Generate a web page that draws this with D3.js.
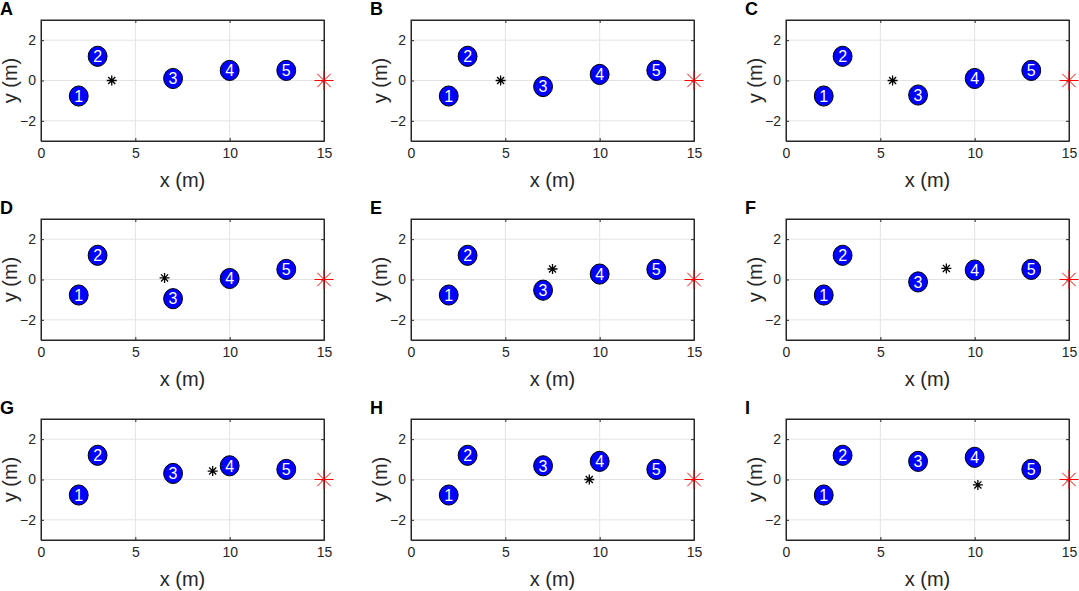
<!DOCTYPE html>
<html>
<head>
<meta charset="utf-8">
<script src="https://cdn.jsdelivr.net/npm/d3@7"></script>
<style>
  body { margin: 0; background: #fff; }
  text { font-family: "Liberation Sans", Arial, sans-serif; }
</style>
</head>
<body>
<div id="chart"></div>
<script>

// panel letters
const panels = ["A", "B", "C", "D", "E", "F", "G", "H", "I"];

// obstacle positions (x fixed, y of obstacles 3 and 4 change per panel)
const obstacleIds = [1, 2, 3, 4, 5];
const obstacleX = [2, 3, 7, 10, 13];
const obstacle1Y = [-0.77, -0.77, -0.77, -0.77, -0.77, -0.77, -0.77, -0.77, -0.77];
const obstacle2Y = [1.2, 1.2, 1.2, 1.2, 1.2, 1.2, 1.2, 1.2, 1.2];
const obstacle3Y = [0.1, -0.3, -0.72, -0.95, -0.53, -0.12, 0.3, 0.68, 0.9];
const obstacle4Y = [0.5, 0.3, 0.1, 0.05, 0.27, 0.47, 0.68, 0.9, 1.1];
const obstacle5Y = [0.5, 0.5, 0.5, 0.5, 0.5, 0.5, 0.5, 0.5, 0.5];
const obstacleR = 0.5;

// robot (black asterisk) per panel
const robotX = [3.75, 4.75, 5.65, 6.55, 7.5, 8.5, 9.1, 9.45, 10.17];
const robotY = [0, 0, 0, 0.08, 0.52, 0.55, 0.42, 0, -0.27];

// goal (red asterisk)
const goal = [15, 0];

const xTicks = [0, 5, 10, 15];
const yTicks = [-2, 0, 2];

const width = 1079;
const height = 591;

const colLeft = [41, 411, 786];
const rowTop = [20, 219, 419];
const plotW = 283;
const plotH = 121;

const svg = d3.select("#chart")
    .append("svg")
    .attr("width", width)
    .attr("height", height);

function asterisk(size) {
    // + and x combined, like matlab '*'
    const r = size / 2;
    const d = r * Math.SQRT1_2;
    return "M" + (-r) + ",0L" + r + ",0" +
        "M0," + (-r) + "L0," + r +
        "M" + (-d) + "," + (-d) + "L" + d + "," + d +
        "M" + (-d) + "," + d + "L" + d + "," + (-d);
}

panels.forEach(function (letter, i) {

    const col = i % 3;
    const row = Math.floor(i / 3);
    const left = colLeft[col];
    const top = rowTop[row];

    const x = d3.scaleLinear().domain([0, 15]).range([0, plotW]);
    const y = d3.scaleLinear().domain([-3, 3]).range([plotH, 0]);

    const g = svg.append("g")
        .attr("transform", "translate(" + left + "," + top + ")");

    // grid
    g.selectAll("line.gx")
        .data(xTicks.slice(1, -1))
        .enter()
        .append("line")
        .attr("x1", d => x(d)).attr("x2", d => x(d))
        .attr("y1", 0).attr("y2", plotH)
        .style("stroke", "#e3e3e3")
        .style("stroke-width", 1);

    g.selectAll("line.gy")
        .data(yTicks)
        .enter()
        .append("line")
        .attr("x1", 0).attr("x2", plotW)
        .attr("y1", d => y(d)).attr("y2", d => y(d))
        .style("stroke", "#e3e3e3")
        .style("stroke-width", 1);

    // axes, ticks pointing inward
    const fmt = d3.format("d");
    const xAxisB = d3.axisBottom(x).tickValues(xTicks).tickFormat(fmt).tickSizeInner(-3).tickSizeOuter(0).tickPadding(7);
    const xAxisT = d3.axisTop(x).tickValues(xTicks).tickSizeInner(-3).tickSizeOuter(0).tickFormat("");
    const yAxisL = d3.axisLeft(y).tickValues(yTicks).tickFormat(fmt).tickSizeInner(-3).tickSizeOuter(0).tickPadding(5);
    const yAxisR = d3.axisRight(y).tickValues(yTicks).tickSizeInner(-3).tickSizeOuter(0).tickFormat("");

    const axes = [
        g.append("g").attr("transform", "translate(0," + plotH + ")").call(xAxisB),
        g.append("g").call(xAxisT),
        g.append("g").call(yAxisL),
        g.append("g").attr("transform", "translate(" + plotW + ",0)").call(yAxisR)
    ];
    axes.forEach(function (a) {
        a.attr("font-size", null).attr("font-family", null);
        a.selectAll("path, line").style("stroke", "#262626").style("stroke-width", 1);
        a.selectAll("text")
            .style("font-size", "14px")
            .style("fill", "#262626");
    });

    // box
    g.append("rect")
        .attr("x", 0).attr("y", 0)
        .attr("width", plotW).attr("height", plotH)
        .style("fill", "none")
        .style("stroke", "#262626")
        .style("stroke-width", 1);

    // obstacles
    const obsY = [obstacle1Y[i], obstacle2Y[i], obstacle3Y[i], obstacle4Y[i], obstacle5Y[i]];
    const obs = obstacleIds.map(function (id, k) {
        return { id: id, x: obstacleX[k], y: obsY[k] };
    });

    g.selectAll("ellipse")
        .data(obs)
        .enter()
        .append("ellipse")
        .attr("cx", d => x(d.x))
        .attr("cy", d => y(d.y))
        .attr("rx", x(obstacleR) - x(0))
        .attr("ry", y(0) - y(obstacleR))
        .style("fill", "#0000ff")
        .style("stroke", "#000")
        .style("stroke-width", 1);

    g.selectAll("text.num")
        .data(obs)
        .enter()
        .append("text")
        .attr("class", "num")
        .attr("x", d => x(d.x))
        .attr("y", d => y(d.y))
        .attr("dy", "0.36em")
        .attr("text-anchor", "middle")
        .style("fill", "#fff")
        .style("font-size", "16px")
        .text(d => d.id);

    // robot
    g.append("path")
        .attr("d", asterisk(10))
        .attr("transform", "translate(" + x(robotX[i]) + "," + y(robotY[i]) + ")")
        .style("stroke", "#000")
        .style("stroke-width", 1.3)
        .style("fill", "none");

    // goal
    g.append("path")
        .attr("d", asterisk(19))
        .attr("transform", "translate(" + x(goal[0]) + "," + y(goal[1]) + ")")
        .style("stroke", "#ff0000")
        .style("stroke-width", 1)
        .style("fill", "none");

    // axis labels
    g.append("text")
        .attr("x", plotW / 2)
        .attr("y", plotH + 46)
        .attr("text-anchor", "middle")
        .style("font-size", "20px")
        .style("fill", "#262626")
        .text("x (m)");

    g.append("text")
        .attr("transform", "translate(-24," + (plotH / 2) + ") rotate(-90)")
        .attr("text-anchor", "middle")
        .style("font-size", "20px")
        .style("fill", "#262626")
        .text("y (m)");

    // panel letter
    g.append("text")
        .attr("x", -41)
        .attr("y", -5)
        .style("font-size", "18px")
        .style("font-weight", "bold")
        .style("fill", "#000")
        .text(letter);
});

</script>
</body>
</html>
